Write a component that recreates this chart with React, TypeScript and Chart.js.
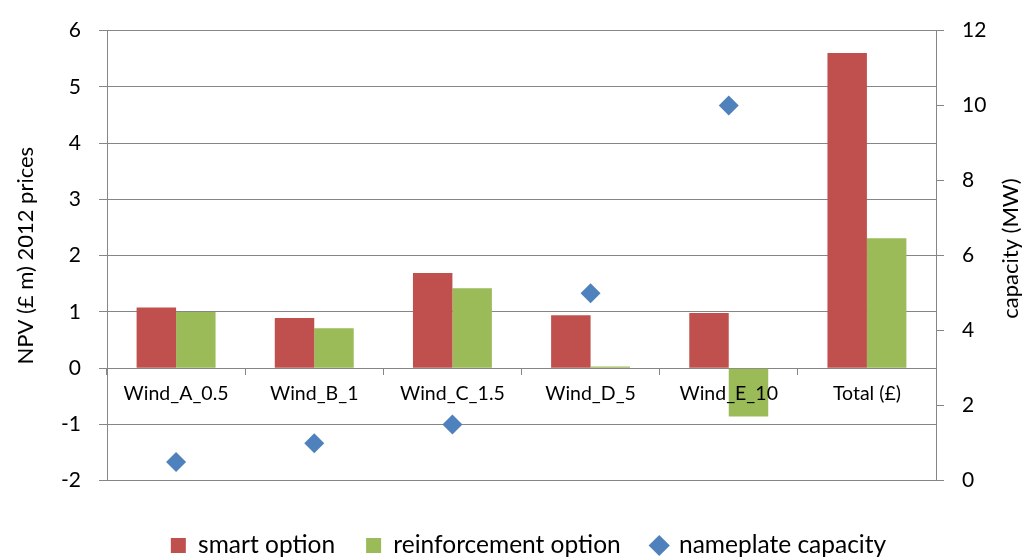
import React, { useEffect, useRef } from 'react';
import { Chart, registerables } from 'chart.js';

Chart.register(...registerables);

const categories = ['Wind_A_0.5', 'Wind_B_1', 'Wind_C_1.5', 'Wind_D_5', 'Wind_E_10', 'Total (£)'];
const smartOption = [1.08, 0.89, 1.69, 0.94, 0.98, 5.6];
const reinforcementOption = [1.0, 0.71, 1.42, 0.03, -0.86, 2.31];
const nameplateCapacity = [0.5, 1, 1.5, 5, 10, null];

const seriesNames = ['smart option', 'reinforcement option', 'nameplate capacity'];
const leftTitle = 'NPV (£ m) 2012 prices';
const rightTitle = 'capacity (MW)';

const RED = '#C0504D';
const GREEN = '#9BBB59';
const BLUE = '#4F81BD';
const GRID = '#868686';
const FONT = 'Lato, "Open Sans", sans-serif';

const rightTitlePlugin = {
  id: 'rightTitle',
  afterDraw(chart: any) {
    const s = chart.scales.y2;
    const ca = chart.chartArea;
    const ctx = chart.ctx;
    ctx.save();
    ctx.translate(s.right - 9, (ca.top + ca.bottom) / 2 - 7);
    ctx.rotate(-Math.PI / 2);
    ctx.font = `22px ${FONT}`;
    ctx.fillStyle = '#000';
    ctx.textAlign = 'center';
    ctx.textBaseline = 'alphabetic';
    ctx.fillText(rightTitle, 0, 0);
    ctx.restore();
  },
};

export default function App() {
  const ref = useRef<HTMLCanvasElement | null>(null);

  useEffect(() => {
    if (!ref.current) return;
    const chart = new Chart(ref.current, {
      type: 'bar',
      data: {
        labels: categories,
        datasets: [
          {
            type: 'bar',
            label: seriesNames[0],
            data: smartOption,
            backgroundColor: RED,
            borderWidth: 0,
            pointStyle: 'rect',
            yAxisID: 'y',
            barPercentage: 1,
            categoryPercentage: 0.5714,
            order: 2,
          } as any,
          {
            type: 'bar',
            label: seriesNames[1],
            data: reinforcementOption,
            backgroundColor: GREEN,
            borderWidth: 0,
            pointStyle: 'rect',
            yAxisID: 'y',
            barPercentage: 1,
            categoryPercentage: 0.5714,
            order: 2,
          } as any,
          {
            type: 'line',
            label: seriesNames[2],
            data: nameplateCapacity,
            showLine: false,
            borderColor: BLUE,
            backgroundColor: BLUE,
            pointStyle: 'rectRot',
            pointRadius: 10,
            pointHoverRadius: 10,
            pointBackgroundColor: BLUE,
            pointBorderColor: BLUE,
            pointBorderWidth: 0,
            yAxisID: 'y2',
            order: 1,
          } as any,
        ],
      },
      options: {
        animation: false,
        responsive: false,
        maintainAspectRatio: false,
        devicePixelRatio: 1,
        layout: { padding: { top: 28, left: 30, right: 0, bottom: -10.75 } },
        plugins: {
          tooltip: { enabled: false },
          legend: {
            position: 'bottom',
            align: 'center',
            title: { display: true, text: '', padding: { top: 20.35, bottom: 0 }, font: { size: 1 } },
            labels: {
              usePointStyle: true,
              boxHeight: 15,
              boxWidth: 15,
              padding: 31,
              color: '#000',
              font: { family: FONT, size: 24.5 },
              sort: (a: any, b: any) => a.datasetIndex - b.datasetIndex,
            },
          },
        },
        scales: {
          x: {
            type: 'category',
            position: { y: 0 } as any,
            offset: true,
            grid: {
              offset: true,
              drawOnChartArea: false,
              drawTicks: true,
              tickLength: 6,
              color: GRID,
            },
            border: { display: true, color: GRID, width: 1 },
            ticks: {
              z: 1,
              color: '#000',
              font: { family: FONT, size: 19.5 },
              padding: 8,
              maxRotation: 0,
              autoSkip: false,
            },
          },
          y: {
            type: 'linear',
            position: 'left',
            min: -2,
            max: 6,
            ticks: { stepSize: 1, padding: 18, color: '#000', font: { family: FONT, size: 21 } },
            grid: { color: GRID, tickLength: 8 },
            border: { display: true, color: GRID },
            title: {
              display: true,
              text: leftTitle,
              color: '#000',
              font: { family: FONT, size: 22 },
              padding: { top: -17.2, bottom: 0 },
            },
            afterFit: (s: any) => {
              s.width = 77;
            },
          },
          y2: {
            type: 'linear',
            position: 'right',
            min: 0,
            max: 12,
            ticks: { stepSize: 2, padding: 18, color: '#000', font: { family: FONT, size: 21 } },
            grid: { drawOnChartArea: false, color: GRID, tickLength: 8 },
            border: { display: true, color: GRID },
            afterFit: (s: any) => {
              s.width = 91;
            },
          },
        },
      },
      plugins: [rightTitlePlugin],
    } as any);
    return () => chart.destroy();
  }, []);

  return (
    <div style={{ position: 'fixed', left: 0, top: 0, width: 1027, height: 557, background: '#fff' }}>
      <canvas ref={ref} width={1027} height={557} style={{ display: 'block' }} />
    </div>
  );
}
